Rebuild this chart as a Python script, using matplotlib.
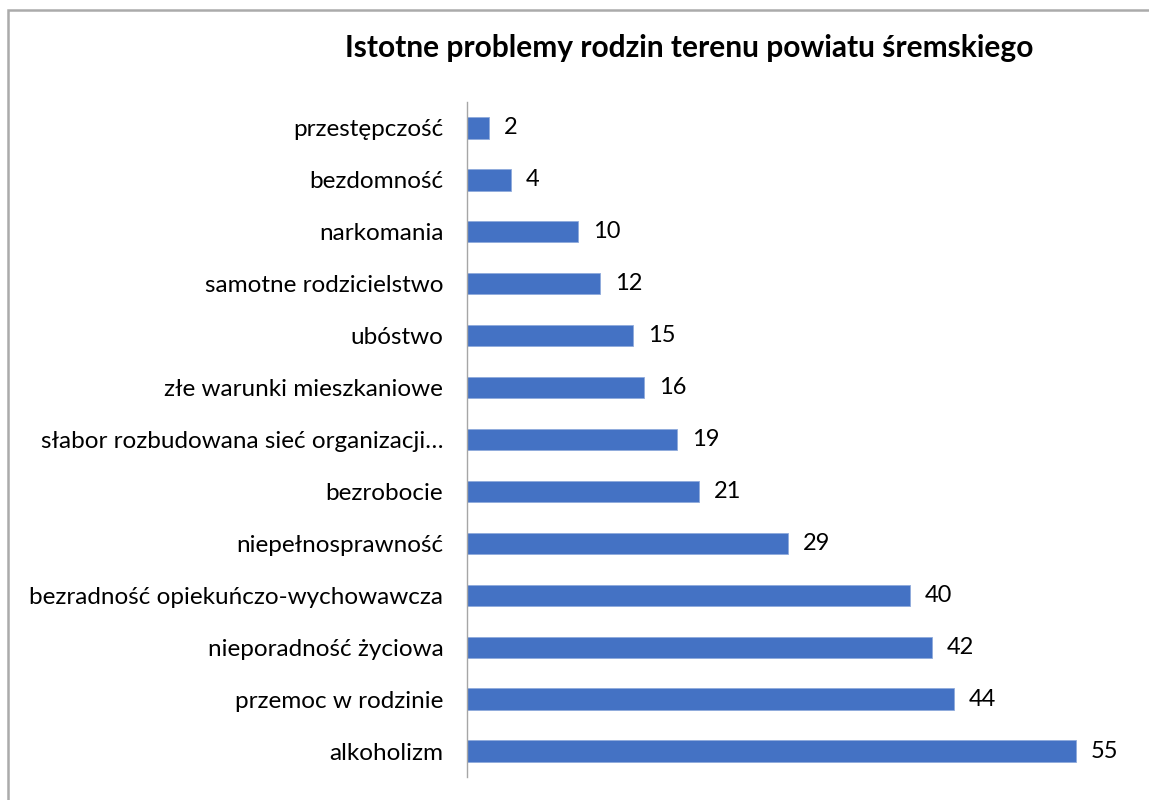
import matplotlib.pyplot as plt
from matplotlib.patches import Rectangle

categories = [
    "alkoholizm",
    "przemoc w rodzinie",
    "nieporadność życiowa",
    "bezradność opiekuńczo-wychowawcza",
    "niepełnosprawność",
    "bezrobocie",
    "słabor rozbudowana sieć organizacji…",
    "złe warunki mieszkaniowe",
    "ubóstwo",
    "samotne rodzicielstwo",
    "narkomania",
    "bezdomność",
    "przestępczość",
]
values = [55, 44, 42, 40, 29, 21, 19, 16, 15, 12, 10, 4, 2]
title = "Istotne problemy rodzin terenu powiatu śremskiego"

plt.rcParams['font.family'] = ['Lato', 'DejaVu Sans']

fig = plt.figure(figsize=(11.49, 8), dpi=100)
ax = fig.add_axes([0.4064, 0.02875, 0.58, 0.84375])

y = range(len(categories))
ax.barh(y, values, height=0.41, color='#4472C4', edgecolor='#8FAADC', linewidth=0.6)
for i, v in enumerate(values):
    ax.text(v + 1.35, i, str(v), va='center', ha='left', fontsize=17, color='black')

ax.set_yticks(list(y))
ax.set_yticklabels(categories, fontsize=17.5)
ax.set_ylim(-0.5, len(categories) - 0.5)
ax.set_xlim(0, (0.58 * 1149) / 11.07)
ax.set_xticks([])
ax.tick_params(axis='y', length=0, pad=17)
for s in ['top', 'right', 'bottom']:
    ax.spines[s].set_visible(False)
ax.spines['left'].set_color('#A6A6A6')
ax.spines['left'].set_linewidth(1.0)

fig.text(0.5996, 0.94, title, ha='center', va='center', fontsize=21.5, fontweight='bold')

# outer chart border (only top and left visible in the crop)
fig.patches.append(Rectangle((8 / 1149, -0.1), 1.2, 1.0875,
                             transform=fig.transFigure, fill=False,
                             edgecolor='#ABABAB', linewidth=1.8))

fig.savefig('out.png', dpi=100)
